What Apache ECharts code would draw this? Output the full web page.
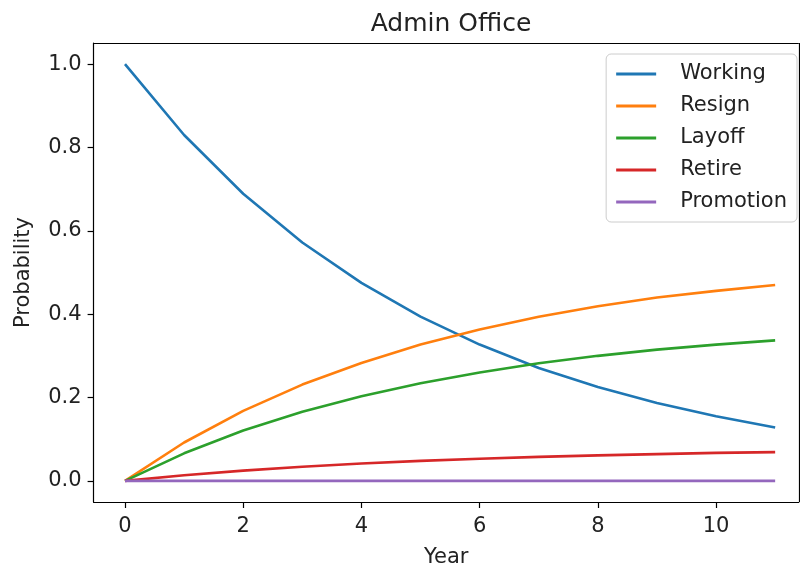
<!DOCTYPE html>
<html>
<head>
<meta charset="utf-8">
<script src="https://cdn.jsdelivr.net/npm/echarts@6/dist/echarts.min.js"></script>
<style>
html,body{margin:0;padding:0;background:#fff;}
#chart{width:800px;height:573px;}
</style>
</head>
<body>
<div id="chart"></div>
<script>
const years = [0,1,2,3,4,5,6,7,8,9,10,11];
const working   = [1.000,0.830,0.689,0.572,0.475,0.394,0.327,0.271,0.225,0.187,0.155,0.128];
const resign    = [0.000,0.092,0.168,0.231,0.283,0.327,0.363,0.394,0.419,0.440,0.456,0.470];
const layoff    = [0.000,0.066,0.121,0.166,0.203,0.234,0.260,0.282,0.300,0.315,0.327,0.337];
const retire    = [0.000,0.0135,0.0246,0.0338,0.0415,0.048,0.053,0.0576,0.061,0.064,0.067,0.069];
const promotion = [0,0,0,0,0,0,0,0,0,0,0,0];
const seriesNames = ['Working','Resign','Layoff','Retire','Promotion'];
const seriesColors = ['#1f77b4','#ff7f0e','#2ca02c','#d62728','#9467bd'];
const xTicks = [0,2,4,6,8,10];
const yTicks = [0,0.2,0.4,0.6,0.8,1.0];

const allData = [working,resign,layoff,retire,promotion];
const FONT = 'DejaVu Sans';
const TXT = '#222';
const chart = echarts.init(document.getElementById('chart'), null, {renderer:'canvas'});
chart.setOption({
  backgroundColor:'#fff',
  animation:false,
  title:{
    text:'Admin Office', left:446, top:7, textAlign:'center',
    textStyle:{fontFamily:FONT,fontSize:25,fontWeight:'normal',color:TXT}
  },
  legend:{
    orient:'vertical', right:3, top:54,
    data:seriesNames.map(n=>({name:n,icon:'rect'})),
    itemWidth:40, itemHeight:3, itemGap:10,
    backgroundColor:'rgba(255,255,255,0.8)', borderColor:'#cccccc', borderWidth:1, borderRadius:5,
    padding:[9,10,9,10],
    textStyle:{fontFamily:FONT,fontSize:21,color:TXT,lineHeight:22,padding:[0,0,0,19]}
  },
  grid:{left:93.6,right:1.2,top:43,bottom:64,containLabel:false},
  xAxis:{
    type:'value', min:-0.531, max:11.40,
    name:'Year', nameLocation:'middle', nameGap:45,
    nameTextStyle:{fontFamily:FONT,fontSize:21,color:TXT},
    axisLine:{show:true,onZero:false,lineStyle:{color:'#000',width:1.2}},
    axisTick:{show:true,customValues:xTicks,length:6,lineStyle:{color:'#000',width:1.2}},
    axisLabel:{customValues:xTicks,margin:14,fontFamily:FONT,fontSize:21,color:TXT,formatter:v=>String(v)},
    splitLine:{show:false}
  },
  yAxis:{
    type:'value', min:-0.0508, max:1.0508,
    name:'Probability', nameLocation:'middle', nameGap:60, nameRotate:90,
    nameTextStyle:{fontFamily:FONT,fontSize:21,color:TXT},
    axisLine:{show:true,onZero:false,lineStyle:{color:'#000',width:1.2}},
    axisTick:{show:true,customValues:yTicks,length:6,lineStyle:{color:'#000',width:1.2}},
    axisLabel:{customValues:yTicks,margin:12,fontFamily:FONT,fontSize:21,color:TXT,formatter:v=>v.toFixed(1)},
    splitLine:{show:false}
  },
  series:[
    ...seriesNames.map((n,i)=>({
      name:n, type:'line', showSymbol:false, symbol:'none',
      data:years.map((y,j)=>[y,allData[i][j]]),
      lineStyle:{color:seriesColors[i],width:2.6},
      itemStyle:{color:seriesColors[i]},
      z:2+i
    })),
    {
      type:'line', data:[], silent:true,
      markLine:{silent:true,symbol:'none',label:{show:false},
        lineStyle:{color:'#000',width:1.2,type:'solid'},
        data:[[{xAxis:-0.531,yAxis:1.0508},{xAxis:11.40,yAxis:1.0508}],
              [{xAxis:11.40,yAxis:-0.0508},{xAxis:11.40,yAxis:1.0508}]]}
    }
  ]
});
</script>
</body>
</html>
